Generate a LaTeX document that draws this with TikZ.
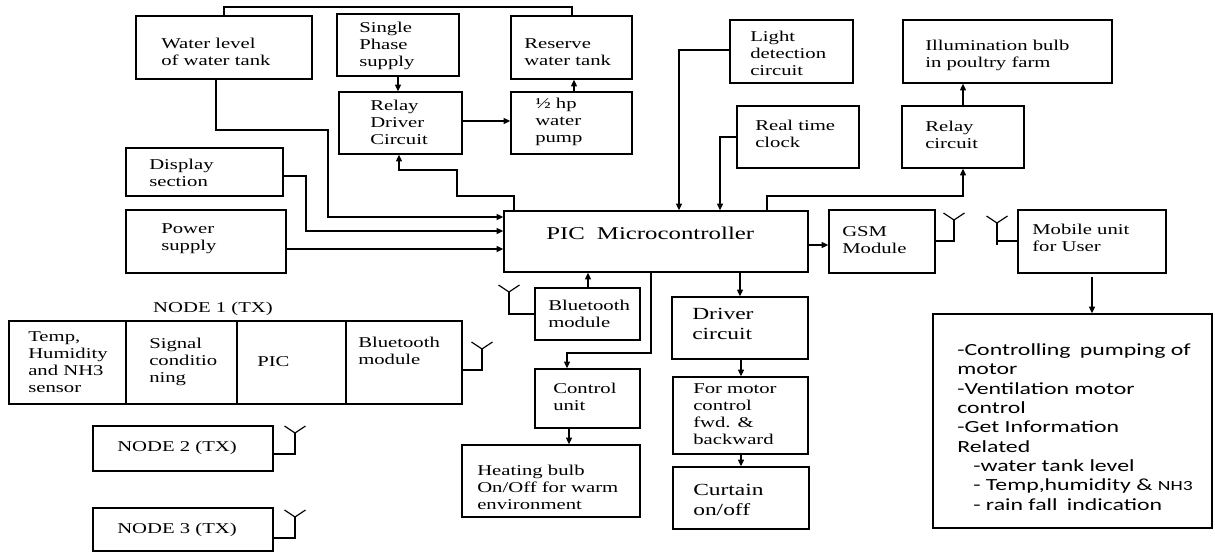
\documentclass[tikz,border=0pt]{standalone}
\usepackage{fontspec}
\setmainfont{Liberation Serif}[FakeStretch=1.38]
\newfontfamily\infofont{Carlito}[FakeStretch=1.4]
\usetikzlibrary{arrows.meta}
\tikzset{
 box/.style={draw, line width=1.1pt, inner sep=0},
 txt/.style={inner sep=0, align=left, font=\fontsize{11.25}{12.75}\selectfont, anchor=west},
 big/.style={font=\fontsize{12.75}{14.5}\selectfont},
 conn/.style={line width=0.9pt},
 arr/.style={conn, -{Triangle[length=5pt,width=4.5pt]}},
}
\newcommand\bx[9][]{%
 \node[box, minimum width={(#5-#3)*0.75pt}, minimum height={(#6-#4)*0.75pt}] (#2) at ({(#3+#5)/2},{(#4+#6)/2}) {};
 \node[txt,#1] (#2-t) at (#7,#8) {#9};}
\newcommand\ant[2]{\draw[conn] (#1,#2) -- ++(-10.5,-7) (#1,#2) -- ++(10.5,-7);}
\begin{document}
\begin{tikzpicture}[x=0.75pt,y=-0.75pt]
\useasboundingbox (0,0) rectangle (1215,554);
% boxes
\bx{wl}{136}{16}{312}{79}{161}{52}{Water level\\of water tank}
\bx{sp}{337}{14}{459}{76}{359}{46}{Single\\Phase\\supply}
\bx{rd}{339}{92}{462}{154}{370}{122}{Relay\\Driver\\Circuit}
\bx{pump}{511}{92}{632}{154}{535}{122}{½ hp\\water\\pump}
\bx{rw}{511}{16}{632}{79}{524}{52}{Reserve\\water tank}
\bx{ld}{730}{20}{853}{83}{750}{53}{Light\\detection\\circuit}
\bx{rtc}{737}{106}{859}{168}{755}{134}{Real time\\clock}
\bx{ill}{903}{20}{1112}{83}{925}{55}{Illumination bulb\\in poultry farm}
\bx{rc}{902}{106}{1024}{168}{925}{135}{Relay\\circuit}
\bx{disp}{126}{148}{283}{196}{149}{173}{Display\\section}
\bx{pow}{126}{210}{286}{273}{161}{239}{Power\\supply}
\bx[font=\fontsize{13.5}{15}\selectfont]{pic}{504}{211}{808}{272}{546}{233}{PIC\hspace{9pt}Microcontroller}
\bx{gsm}{829}{210}{935}{273}{842}{240}{GSM\\Module}
\bx{mob}{1018}{210}{1166}{273}{1032}{238}{Mobile unit\\for User}
\bx{bt}{535}{288}{640}{340}{548}{314}{Bluetooth\\module}
\bx{cu}{535}{369}{640}{428}{553}{397}{Control\\unit}
\bx{hb}{462}{445}{640}{517}{477}{487}{Heating bulb\\On/Off for warm\\environment}
\bx[big]{dc}{672}{297}{808}{359}{692}{324}{Driver\\circuit}
\bx{mc}{673}{377}{808}{454}{693}{414}{For motor\\control\\fwd. \&\\backward}
\bx[big]{ct}{673}{467}{809}{529}{693}{500}{Curtain\\on/off}
\bx[font=\infofont\fontsize{12.75}{14.5}\selectfont]{info}{933}{314}{1212}{528}{957}{427}{-Controlling\hspace{3pt} pumping of\\motor\\-Ventilation motor\\control\\-Get Information\\Related\\\hspace*{12pt}-water tank level\\\hspace*{12pt}- Temp,humidity \& {\fontsize{10.5}{12}\selectfont NH3}\\\hspace*{12pt}- rain fall\hspace{3pt} indication}
% node 1
\node[txt, anchor=center] (n1lbl) at (213,309) {NODE 1 (TX)};
\bx{n1a}{9}{321}{126}{404}{28}{362}{Temp,\\Humidity\\and NH3\\sensor}
\bx{n1b}{126}{321}{237}{404}{149}{362}{Signal\\conditio\\ning}
\bx{n1c}{237}{321}{346}{404}{257}{362}{PIC}
\bx{n1d}{346}{321}{462}{404}{358}{351}{Bluetooth\\module}
\bx{n2}{93}{426}{273}{471}{117}{448}{NODE 2 (TX)}
\bx{n3}{93}{508}{273}{551}{117}{530}{NODE 3 (TX)}
% connectors
\draw[conn] (wl.north -| 224,0) |- (572,7) -- (rw.north -| 572,0);
\draw[arr] (sp.south -| 398,0) -- (rd.north -| 398,0);
\draw[arr] (rd.east |- 0,121) -- (pump.west |- 0,121);
\draw[arr] (pump.north -| 574,0) -- (rw.south -| 574,0);
\draw[arr] (wl.south -| 216,0) |- (328,130) |- (pic.west |- 0,217);
\draw[arr] (disp.east |- 0,176) -| (306,231) -- (pic.west |- 0,231);
\draw[arr] (pow.east |- 0,249) -- (pic.west |- 0,249);
\draw[arr] (pic.north -| 514,0) |- (457,196) -- (457,170) -| (rd.south -| 399,0);
\draw[arr] (ld.west |- 0,50) -| (pic.north -| 679,0);
\draw[arr] (rtc.west |- 0,137) -| (pic.north -| 720,0);
\draw[arr] (pic.north -| 767,0) -- (767,196) -| (rc.south -| 963,0);
\draw[arr] (rc.north -| 963,0) -- (ill.south -| 963,0);
\draw[arr] (pic.east |- 0,245) -- (gsm.west |- 0,245);
\draw[conn] (gsm.east |- 0,241) -| (954,220);
\ant{954}{220}
\coordinate (mant) at (997,223);
\draw[conn] (mob.west |- 0,241) -- (997,241);
\draw[conn] (997,245) -- (mant);
\ant{997}{223}
\draw[arr] ([yshift=-2.25pt]mob.south -| 1092,0) -- (info.north -| 1092,0);
\draw[arr] (bt.north -| 588,0) -- (pic.south -| 588,0);
\draw[conn] (bt.west |- 0,314) -| (509,292);
\ant{509}{292}
\draw[arr] (pic.south -| 651,0) |- (567,353) -- (cu.north -| 567,0);
\draw[arr] (cu.south -| 569,0) -- (hb.north -| 569,0);
\draw[arr] (pic.south -| 740,0) -- (dc.north -| 740,0);
\draw[arr] (dc.south -| 741,0) -- (mc.north -| 741,0);
\draw[arr] (mc.south -| 741,0) -- (ct.north -| 741,0);
\draw[conn] (n1d.east |- 0,370) -| (482,349);
\ant{482}{349}
\draw[conn] (n2.east |- 0,454) -| (295,433);
\ant{295}{433}
\draw[conn] (n3.east |- 0,538) -| (295,517);
\ant{295}{517}
\end{tikzpicture}
\end{document}
